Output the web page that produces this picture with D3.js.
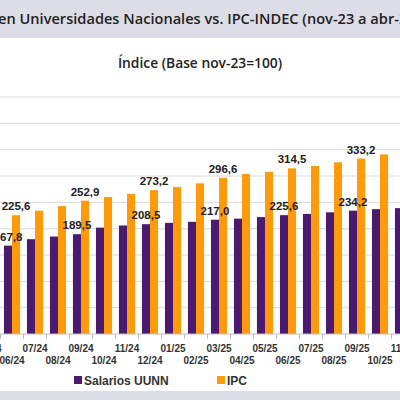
<!DOCTYPE html>
<html>
<head>
<meta charset="utf-8">
<script src="https://cdn.jsdelivr.net/npm/d3@7"></script>
<style>
  body { margin: 0; background: #fff; }
  svg { display: block; }
</style>
</head>
<body>
<svg id="chart" width="400" height="400"></svg>
<script>
// months shown in the crop
const months = ['05/24','06/24','07/24','08/24','09/24','10/24','11/24','12/24','01/25','02/25',
                '03/25','04/25','05/25','06/25','07/25','08/25','09/25','10/25','11/25'];
const salarios = [160, 167.8, 180, 185, 189.5, 202, 206, 208.5, 211, 213,
                  217.0, 219, 222, 225.6, 228, 231, 234.2, 237, 239];
const ipc = [216, 225.6, 234, 243, 252.9, 260, 266, 273.2, 279, 286,
             296.6, 304, 308, 314.5, 319, 326, 333.2, 341, 348];
// which bars carry a value label
const labelIdx = [1, 4, 7, 10, 13, 16];
const yTicks = [50, 100, 150, 200, 250, 300, 350, 400, 450];

const svg = d3.select('#chart');
const purple = '#4b1a6e', orange = '#ff9a0a';

// title band
svg.append('rect').attr('x', 0).attr('y', 0).attr('width', 400).attr('height', 38).attr('fill', '#dcdde6');
svg.append('text').attr('x', -2).attr('y', 24)
  .attr('font-family', 'Open Sans, sans-serif').attr('font-size', 14.6).attr('font-weight', 600).attr('fill', '#222')
  .text('en Universidades Nacionales vs. IPC-INDEC (nov-23 a abr-26)');
svg.append('text').attr('x', 200).attr('y', 68).attr('text-anchor', 'middle')
  .attr('font-family', 'Open Sans, sans-serif').attr('font-size', 13.8).attr('font-weight', 600).attr('fill', '#222')
  .text('Índice (Base nov-23=100)');

const y = d3.scaleLinear().domain([0, 450]).range([334, 97]);
const x = d3.scaleBand().domain(months).range([-22.5, 414.5]).paddingInner(0.3).paddingOuter(0.15);
const sub = d3.scaleBand().domain(['s', 'i']).range([0, x.bandwidth()]);

// grid
svg.append('g').selectAll('line').data(yTicks).join('line')
  .attr('x1', 0).attr('x2', 400).attr('y1', d => y(d)).attr('y2', d => y(d))
  .attr('stroke', '#d9d9d9').attr('stroke-width', 1);

const step = x.step();
const g = svg.append('g').selectAll('g').data(months).join('g')
  .attr('transform', d => `translate(${x(d)},0)`);
g.append('rect').attr('x', sub('s')).attr('width', sub.bandwidth())
  .attr('y', (d, i) => y(salarios[i])).attr('height', (d, i) => y(0) - y(salarios[i])).attr('fill', purple);
g.append('rect').attr('x', sub('i')).attr('width', sub.bandwidth())
  .attr('y', (d, i) => y(ipc[i])).attr('height', (d, i) => y(0) - y(ipc[i])).attr('fill', orange);

const lblFont = 'Liberation Sans, Arial, sans-serif';
labelIdx.forEach(i => {
  const fmt = v => v.toFixed(1).replace('.', ',');
  svg.append('text').attr('x', x(months[i]) + sub('s') + sub.bandwidth() / 2).attr('y', y(salarios[i]) - 5)
    .attr('text-anchor', 'middle').attr('font-family', lblFont).attr('font-size', 11.5).attr('font-weight', 'bold')
    .attr('fill', '#222').text(fmt(salarios[i]));
  svg.append('text').attr('x', x(months[i]) + sub('i') + sub.bandwidth() / 2).attr('y', y(ipc[i]) - 5)
    .attr('text-anchor', 'middle').attr('font-family', lblFont).attr('font-size', 11.5).attr('font-weight', 'bold')
    .attr('fill', '#222').text(fmt(ipc[i]));
});

// axis
svg.append('line').attr('x1', 0).attr('x2', 400).attr('y1', y(0)).attr('y2', y(0)).attr('stroke', '#bfbfbf');
months.forEach((m, i) => {
  const bx = x(m) - step * x.paddingInner() / 2;
  svg.append('line').attr('x1', bx).attr('x2', bx).attr('y1', y(0)).attr('y2', y(0) + 5).attr('stroke', '#bfbfbf');
  svg.append('text').attr('x', x(m) + x.bandwidth() / 2).attr('y', i % 2 ? 364 : 352)
    .attr('text-anchor', 'middle').attr('font-family', lblFont).attr('font-size', 10).attr('font-weight', 'bold')
    .attr('fill', '#333').text(m);
});

// legend
const legend = [['Salarios UUNN', purple, 74], ['IPC', orange, 217]];
legend.forEach(([t, c, lx]) => {
  svg.append('rect').attr('x', lx).attr('y', 376).attr('width', 8).attr('height', 8).attr('fill', c);
  svg.append('text').attr('x', lx + 10).attr('y', 385).attr('font-family', lblFont).attr('font-size', 12)
    .attr('font-weight', 'bold').attr('fill', '#333').text(t);
});
svg.append('rect').attr('x', 0).attr('y', 391).attr('width', 400).attr('height', 9).attr('fill', '#dcdde6');
</script>
</body>
</html>
